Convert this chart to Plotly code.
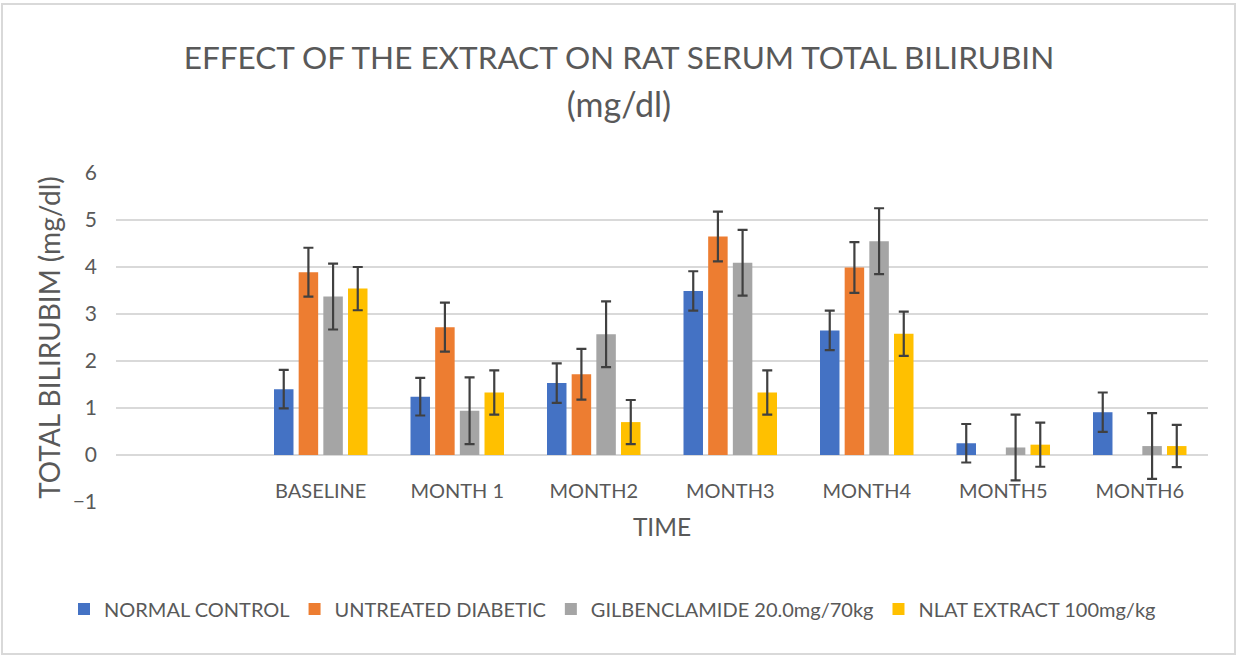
import plotly.graph_objects as go

categories = ["BASELINE", "MONTH 1", "MONTH2", "MONTH3", "MONTH4", "MONTH5", "MONTH6"]

normal_control = [1.40, 1.24, 1.53, 3.49, 2.65, 0.25, 0.91]
normal_control_err = [0.41, 0.40, 0.42, 0.42, 0.42, 0.41, 0.42]

untreated_diabetic = [3.89, 2.72, 1.72, 4.65, 3.99, None, None]
untreated_diabetic_err = [0.52, 0.52, 0.54, 0.53, 0.54, None, None]

gilbenclamide = [3.37, 0.94, 2.57, 4.09, 4.55, 0.16, 0.19]
gilbenclamide_err = [0.70, 0.71, 0.70, 0.70, 0.70, 0.70, 0.70]

nlat_extract = [3.54, 1.33, 0.70, 1.33, 2.58, 0.22, 0.19]
nlat_extract_err = [0.46, 0.47, 0.47, 0.47, 0.47, 0.47, 0.45]

series = [
    ("NORMAL CONTROL", normal_control, normal_control_err, "#4472C4"),
    ("UNTREATED DIABETIC", untreated_diabetic, untreated_diabetic_err, "#ED7D31"),
    ("GILBENCLAMIDE 20.0mg/70kg", gilbenclamide, gilbenclamide_err, "#A5A5A5"),
    ("NLAT EXTRACT 100mg/kg", nlat_extract, nlat_extract_err, "#FFC000"),
]

title_line1 = "EFFECT OF THE EXTRACT ON RAT SERUM TOTAL BILIRUBIN"
title_line2 = "(mg/dl)"

W, H = 1238, 656
ML, MR, MT, MB = 116, 30, 173, 154
PW, PH = W - ML - MR, H - MT - MB
FONT = "Lato, sans-serif"
TXT = "#595959"
GRID = "#D9D9D9"

fig = go.Figure()
for name, vals, errs, color in series:
    fig.add_trace(go.Bar(
        name=name, x=categories, y=vals,
        marker=dict(color=color, line=dict(width=0)),
        error_y=dict(type="data", array=errs, visible=True,
                     color="#404040", thickness=2.2, width=5),
    ))

ymin, ymax = -1, 6

fig.update_layout(
    width=W, height=H,
    margin=dict(l=ML, r=MR, t=MT, b=MB, autoexpand=False),
    paper_bgcolor="white", plot_bgcolor="white",
    barmode="group", bargap=0.277, bargroupgap=0.21,
    font=dict(family=FONT, color=TXT),
    title=dict(
        text=(f"<span style='font-size:31.5px'>{title_line1}</span><br>"
              f"<span style='font-size:34px'>{title_line2}</span>"),
        font=dict(family=FONT, size=37, color=TXT),
        x=0.5, xanchor="center", xref="container",
        y=1 - 69 / H, yanchor="top", yref="container",
    ),
    xaxis=dict(
        range=[-1.5, 6.5], showgrid=False, zeroline=False, showline=False,
        anchor="free", position=(0 - ymin) / (ymax - ymin),
        tickfont=dict(family=FONT, size=20, color=TXT),
        ticklabelstandoff=22,
        title=dict(text="TIME", font=dict(family=FONT, size=24.5, color=TXT), standoff=17),
    ),
    yaxis=dict(
        range=[ymin, ymax], dtick=1, tick0=0,
        showgrid=True, gridcolor=GRID, gridwidth=1.6,
        zeroline=False, showline=False,
        tickfont=dict(family=FONT, size=21, color=TXT),
        ticklabelstandoff=18,
        title=dict(text="TOTAL BILIRUBIM (mg/dl)", font=dict(family=FONT, size=28, color=TXT), standoff=3),
    ),
    legend=dict(
        orientation="h", x=(64 - ML) / PW, xanchor="left",
        y=(H - 609 - MB) / PH, yanchor="middle",
        font=dict(family=FONT, size=20, color=TXT),
        bgcolor="rgba(0,0,0,0)",
    ),
    showlegend=True,
)

fig.add_shape(
    type="rect", xref="paper", yref="paper",
    x0=(2 - ML) / PW, x1=(1235 - ML) / PW,
    y0=(2 - MB) / PH, y1=(H - 4 - MB) / PH,
    line=dict(color=GRID, width=2), fillcolor="rgba(0,0,0,0)", layer="below",
)

fig.write_html("out.html", config={"displayModeBar": False},
               post_script="document.body.style.margin='0px';")
